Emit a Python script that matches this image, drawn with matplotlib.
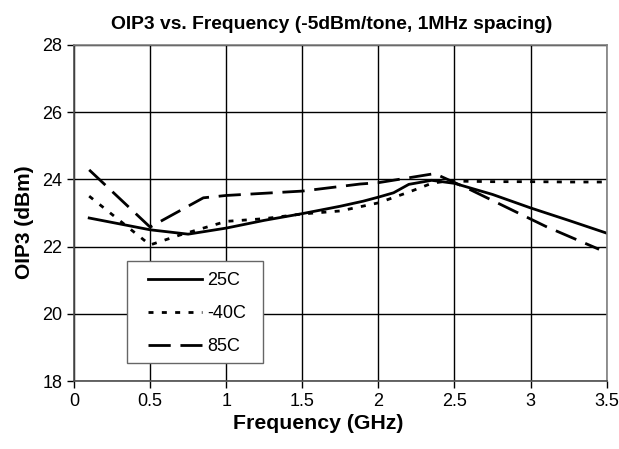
import matplotlib
matplotlib.use("Agg")
import matplotlib.pyplot as plt
from matplotlib.patches import Rectangle

plt.rcParams["font.family"] = ["Liberation Sans", "DejaVu Sans"]

# 25C
f_25 = [0.1, 0.5, 0.75, 1.0, 1.25, 1.5, 1.75, 1.9, 2.0, 2.1, 2.2, 2.35, 2.5, 2.75, 3.0, 3.25, 3.5]
oip_25 = [22.85, 22.5, 22.37, 22.55, 22.78, 22.98, 23.2, 23.35, 23.47, 23.6, 23.85, 23.97,
          23.88, 23.55, 23.15, 22.78, 22.4]
# -40C
f_m40 = [0.1, 0.5, 0.7, 1.0, 1.25, 1.5, 1.75, 2.0, 2.2, 2.35, 2.45, 2.75, 3.0, 3.25, 3.5]
oip_m40 = [23.5, 22.05, 22.35, 22.75, 22.83, 22.97, 23.06, 23.3, 23.62, 23.88, 23.95,
           23.93, 23.93, 23.92, 23.92]
# 85C
f_85 = [0.1, 0.5, 0.85, 1.0, 1.5, 1.88, 2.0, 2.37, 2.6, 2.85, 3.1, 3.45]
oip_85 = [24.28, 22.58, 23.45, 23.52, 23.65, 23.86, 23.9, 24.17, 23.7, 23.15, 22.6, 21.92]

xticks = [0, 0.5, 1, 1.5, 2, 2.5, 3, 3.5]
yticks = [18, 20, 22, 24, 26, 28]

fig = plt.figure(figsize=(6.19, 4.49), dpi=100)
ax = fig.add_axes([0.1195, 0.151, 0.8606, 0.7494])

ax.plot(f_25, oip_25, c="black", lw=2, label="25C")
ax.plot(f_m40, oip_m40, c="black", lw=2, ls=(0, (1.8, 3.0)), label="-40C")
ax.plot(f_85, oip_85, c="black", lw=2, ls=(0, (8, 3.5)), label="85C")

ax.set_xlim(0, 3.5)
ax.set_ylim(18, 28)
ax.set_xticks(xticks)
ax.set_xticklabels([f"{t:g}" for t in xticks])
ax.set_yticks(yticks)
ax.grid(True, color="black", lw=1)
ax.set_axisbelow(True)
ax.tick_params(direction="out", length=5, width=1, labelsize=13, colors="black")
for s in ["top", "right"]:
    ax.spines[s].set_color("0.5")
for s in ["left", "bottom"]:
    ax.spines[s].set_color("0.3")
for s in ax.spines.values():
    s.set_linewidth(1.2)

ax.set_title("OIP3 vs. Frequency (-5dBm/tone, 1MHz spacing)", fontsize=13.9,
             fontweight="bold", pad=11, x=0.484)
ax.set_xlabel("Frequency (GHz)", fontsize=15.3, fontweight="bold", labelpad=3, x=0.459)
ax.set_ylabel("OIP3 (dBm)", fontsize=15, fontweight="bold", labelpad=6, y=0.474)

# legend box drawn separately so its padding can follow the original
ax.add_patch(Rectangle((0.099, 0.053), 0.255, 0.304, transform=ax.transAxes,
                       facecolor="white", edgecolor="0.4", lw=1, zorder=4))
leg = ax.legend(loc="upper left", bbox_to_anchor=(0.139, 0.324), fontsize=13,
                handlelength=3.0, handletextpad=0.28, labelspacing=0.88,
                borderpad=0, borderaxespad=0, frameon=False)
leg.set_zorder(5)

fig.savefig("out.png", dpi=100)
